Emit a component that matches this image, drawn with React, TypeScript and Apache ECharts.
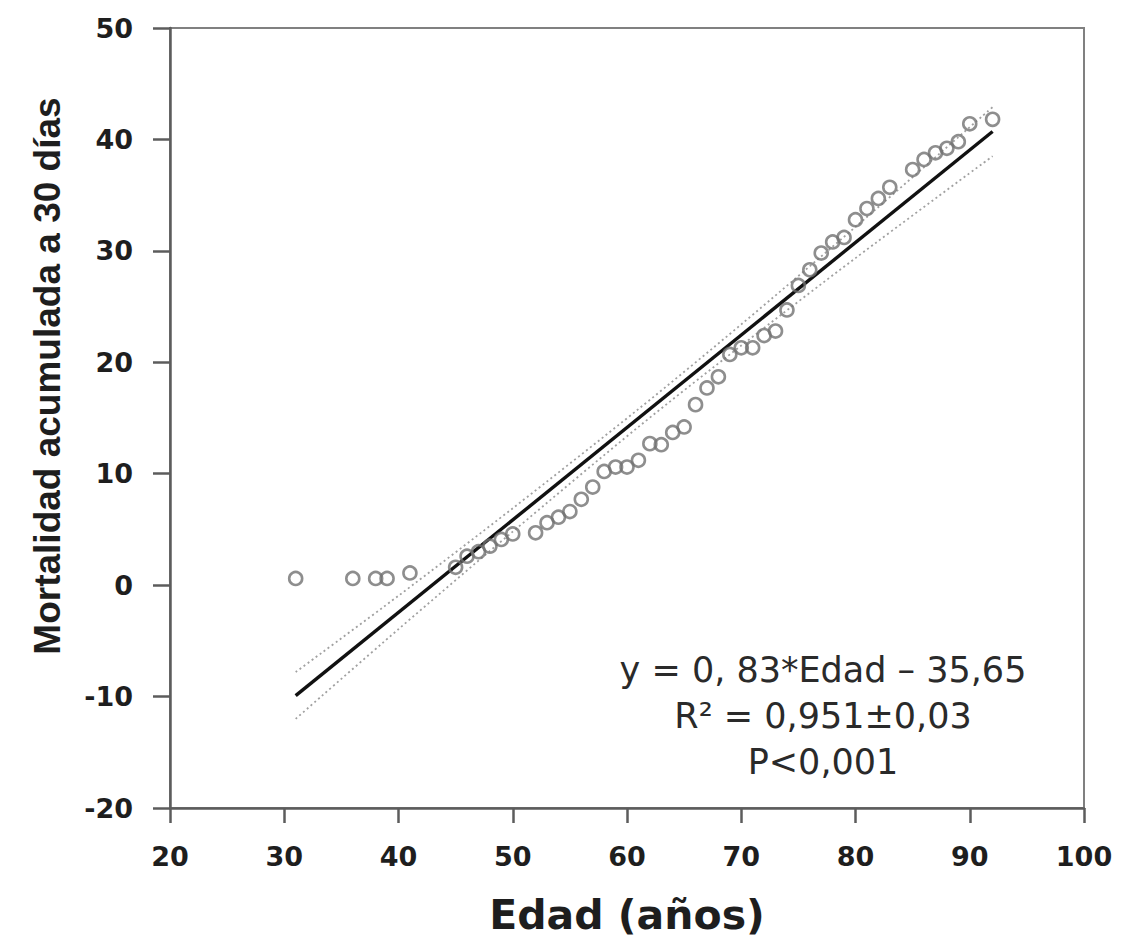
import React, { useEffect, useRef } from "react";
import * as echarts from "echarts";

// Observed points: age (years) vs cumulative 30-day mortality
const ages = [31, 36, 38, 39, 41, 45, 46, 47, 48, 49, 50, 52, 53, 54, 55, 56, 57, 58, 59, 60, 61, 62, 63, 64, 65, 66, 67, 68, 69, 70, 71, 72, 73, 74, 75, 76, 77, 78, 79, 80, 81, 82, 83, 85, 86, 87, 88, 89, 90, 92];
const mortality = [0.6, 0.6, 0.6, 0.6, 1.1, 1.6, 2.6, 3.0, 3.5, 4.1, 4.6, 4.7, 5.6, 6.1, 6.6, 7.7, 8.8, 10.2, 10.6, 10.6, 11.2, 12.7, 12.6, 13.7, 14.2, 16.2, 17.7, 18.7, 20.7, 21.3, 21.3, 22.4, 22.8, 24.7, 26.9, 28.3, 29.8, 30.8, 31.2, 32.8, 33.8, 34.7, 35.7, 37.3, 38.2, 38.8, 39.2, 39.8, 41.4, 41.8];

// Regression line endpoints
const fitX = [31, 92];
const fitY = [-9.92, 40.71];

// Confidence band (dotted)
const bandX = [31, 40, 50, 61, 70, 80, 92];
const bandUpper = [-7.8, -0.95, 6.9, 15.8, 23.4, 32.15, 42.9];
const bandLower = [-12.0, -3.95, 4.8, 14.2, 21.5, 29.35, 38.5];

const xMin = 20;
const xMax = 100;
const yMin = -20;
const yMax = 50;
const tickStep = 10;

const xTitle = "Edad (años)";
const yTitle = "Mortalidad acumulada a 30 días";
const annotationLines = ["y = 0, 83*Edad – 35,65", "R² = 0,951±0,03", "P<0,001"];

const zip = (xs: number[], ys: number[]) => xs.map((x, i) => [x, ys[i]]);

export default function App() {
  const ref = useRef<HTMLDivElement>(null);

  useEffect(() => {
    if (!ref.current) return;
    const chart = echarts.init(ref.current, undefined, { renderer: "svg" });
    const axisColor = "#5c5c5c";
    const labelFont = {
      fontFamily: "DejaVu Sans",
      fontWeight: "bold" as const,
      fontSize: 27,
      color: "#1e1e1e",
    };
    chart.setOption({
      animation: false,
      backgroundColor: "#ffffff",
      grid: {
        left: 170,
        right: 37,
        top: 28,
        bottom: 133,
        show: true,
        borderColor: "#808080",
        borderWidth: 2,
        backgroundColor: "transparent",
      },
      xAxis: {
        type: "value",
        min: xMin,
        max: xMax,
        interval: tickStep,
        name: xTitle,
        nameLocation: "middle",
        nameGap: 86,
        nameTextStyle: {
          fontFamily: "DejaVu Sans",
          fontWeight: "bold",
          fontSize: 41,
          color: "#1e1e1e",
        },
        axisLine: { show: true, onZero: false, lineStyle: { color: axisColor, width: 2.5 } },
        axisTick: { show: true, inside: false, length: 15, lineStyle: { color: axisColor, width: 2.5 } },
        axisLabel: { ...labelFont, margin: 35 },
        splitLine: { show: false },
      },
      yAxis: {
        type: "value",
        min: yMin,
        max: yMax,
        interval: tickStep,
        axisLine: { show: true, onZero: false, lineStyle: { color: axisColor, width: 2.5 } },
        axisTick: { show: true, inside: false, length: 17, lineStyle: { color: axisColor, width: 2.5 } },
        axisLabel: { ...labelFont, margin: 37 },
        splitLine: { show: false },
      },
      series: [
        {
          type: "line",
          data: zip(bandX, bandUpper),
          smooth: 0.3,
          showSymbol: false,
          lineStyle: { color: "#a0a0a0", width: 1.8, type: [2, 3] },
          z: 1,
        },
        {
          type: "line",
          data: zip(bandX, bandLower),
          smooth: 0.3,
          showSymbol: false,
          lineStyle: { color: "#a0a0a0", width: 1.8, type: [2, 3] },
          z: 1,
        },
        {
          type: "line",
          data: zip(fitX, fitY),
          showSymbol: false,
          lineStyle: { color: "#111111", width: 3.4 },
          z: 2,
        },
        {
          type: "scatter",
          data: zip(ages, mortality),
          symbol: "circle",
          symbolSize: 13,
          itemStyle: { color: "rgba(0,0,0,0)", borderColor: "#727272", borderWidth: 2.6 },
          z: 3,
        },
      ],
      graphic: [
        {
          type: "text",
          x: 47,
          y: 376,
          rotation: Math.PI / 2,
          style: {
            text: yTitle,
            align: "center",
            verticalAlign: "middle",
            fontFamily: "Liberation Sans",
            fontWeight: "bold",
            fontSize: 37,
            fill: "#1e1e1e",
          },
        },
        ...annotationLines.map((t, i) => ({
          type: "text",
          x: 823,
          y: 670 + i * 46,
          style: {
            text: t,
            align: "center",
            verticalAlign: "middle",
            fontFamily: "DejaVu Sans",
            fontSize: 35,
            fill: "#2a2a2a",
          },
        })),
      ],
    });
    return () => chart.dispose();
  }, []);

  return (
    <div
      ref={ref}
      style={{ position: "fixed", left: 0, top: 0, width: 1121, height: 941, background: "#fff" }}
    />
  );
}
